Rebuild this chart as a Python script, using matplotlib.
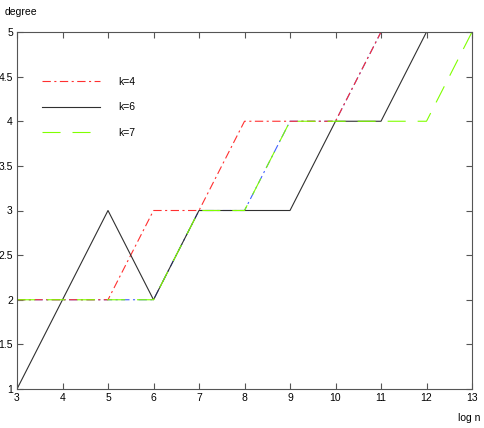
import matplotlib
matplotlib.use('Agg')
import matplotlib.pyplot as plt

plt.rcParams['font.family'] = ['Liberation Sans', 'DejaVu Sans']
plt.rcParams['lines.scale_dashes'] = False

log_n = [3, 4, 5, 6, 7, 8, 9, 10, 11, 12, 13]
deg_k4 = [2, 2, 2, 3, 3, 4, 4, 4, 5, 5, 5]
deg_k5 = [2, 2, 2, 2, 3, 3, 4, 4, 5, 5, 5]   # hidden blue line, mostly covered
deg_k6 = [1, 2, 3, 2, 3, 3, 3, 4, 4, 5, 5]
deg_k7 = [2, 2, 2, 2, 3, 3, 4, 4, 4, 4, 5]

fig = plt.figure(figsize=(4.85, 4.28), dpi=100)
ax = fig.add_axes([17/485, 1 - 389/428, 455/485, 357/428])

ax.plot(log_n, deg_k5, color='#4060ff', lw=0.8, dashes=(6, 2.5, 1.5, 2.5))
ax.plot(log_n, deg_k4, color='#ff3030', lw=0.8, dashes=(6, 2.5, 1.5, 2.5), label='k=4')
ax.plot(log_n, deg_k6, color='#303030', lw=0.8, label='k=6')
ax.plot(log_n, deg_k7, color='#80ff00', lw=0.8, dashes=(13, 8.6), label='k=7')

ax.set_xlim(3, 13)
ax.set_ylim(1, 5)
ax.set_xticks(range(3, 14))
ax.set_yticks([1, 1.5, 2, 2.5, 3, 3.5, 4, 4.5, 5])
ax.set_yticklabels(['1', '1.5', '2', '2.5', '3', '3.5', '4', '4.5', '5'])
ax.tick_params(direction='in', length=4, width=0.8, labelsize=7.5, pad=3,
               top=True, right=True, colors='#555555', labelcolor='black')
for s in ax.spines.values():
    s.set_color('#555555')
    s.set_linewidth(0.8)

ax.legend(loc='upper left', bbox_to_anchor=(0.055, 0.875), frameon=False,
          fontsize=7.5, handlelength=5.6, handletextpad=1.7, labelspacing=1.5,
          borderaxespad=0, borderpad=0)

fig.text(5/485, 1 - 12/428, 'degree', fontsize=7.5, va='center', ha='left')
fig.text(480/485, 1 - 418/428, 'log n', fontsize=7.5, va='center', ha='right')

fig.savefig('out.png', dpi=100)
